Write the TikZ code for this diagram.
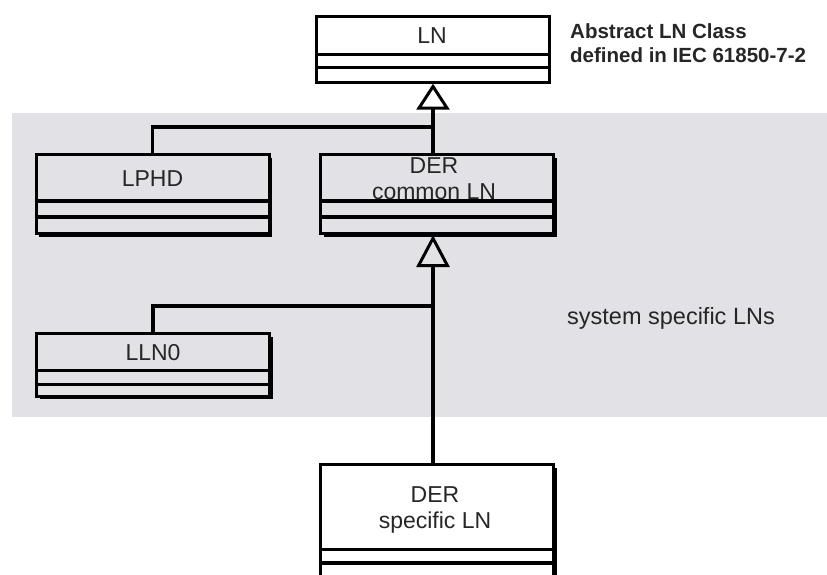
\documentclass[tikz,border=0pt]{standalone}
\usepackage{fontspec}
\setmainfont{Liberation Sans}
\usetikzlibrary{arrows.meta,shadows}

\definecolor{panelgray}{RGB}{226,225,229}
\definecolor{inkgray}{RGB}{38,38,38}

\tikzset{
  classframe/.style={draw=black, line width=3pt, inner sep=0pt, anchor=north west},
  boxshadow/.style={drop shadow={shadow xshift=3pt, shadow yshift=-3pt, opacity=1, fill=black}},
  compartment/.style={line width=3.3pt},
  classname/.style={font=\fontsize{23}{26}\selectfont, text=inkgray, inner sep=0pt, align=center},
  link/.style={line width=3.5pt},
  inheritshort/.style={line width=3.5pt, -{Triangle[open, length=26pt, width=33pt, line width=3pt]}},
  inheritlong/.style={line width=3.5pt, -{Triangle[open, length=32pt, width=33pt, line width=3pt]}},
}

\begin{document}
\begin{tikzpicture}[x=1pt, y=-1pt]
  \useasboundingbox (0,0) rectangle (827,574);
  \clip (0,0) rectangle (827,574);
  \fill[white] (0,0) rectangle (827,574);

  % shaded area holding the system specific logical nodes
  \fill[panelgray] (12,113) rectangle (827,417);

  % abstract base class
  \node[classframe, minimum width=233pt, minimum height=65.4pt] (ln) at (315,15.3) {};
  \draw[compartment] (ln.west |- 0,54.7) -- (ln.east |- 0,54.7);
  \draw[compartment] (ln.west |- 0,67.3) -- (ln.east |- 0,67.3);

  % LPHD
  \node[classframe, boxshadow, fill=panelgray, minimum width=233pt, minimum height=79pt] (lphd) at (34.5,153) {};
  \draw[compartment] (lphd.west |- 0,201) -- (lphd.east |- 0,201);
  \draw[compartment] (lphd.west |- 0,217) -- (lphd.east |- 0,217);

  % DER common LN
  \node[classframe, boxshadow, fill=panelgray, minimum width=233pt, minimum height=79pt] (dercom) at (319,153) {};
  \draw[compartment] (dercom.west |- 0,201) -- (dercom.east |- 0,201);
  \draw[compartment] (dercom.west |- 0,217) -- (dercom.east |- 0,217);

  % LLN0
  \node[classframe, boxshadow, fill=panelgray, minimum width=233pt, minimum height=62.7pt] (lln) at (35,332) {};
  \draw[compartment] (lln.west |- 0,370.5) -- (lln.east |- 0,370.5);
  \draw[compartment] (lln.west |- 0,384.3) -- (lln.east |- 0,384.3);

  % DER specific LN
  \node[classframe, boxshadow, fill=white, minimum width=233pt, minimum height=130pt] (dersp) at (319,463) {};
  \draw[compartment] (dersp.west |- 0,549.5) -- (dersp.east |- 0,549.5);
  \draw[compartment] (dersp.west |- 0,563) -- (dersp.east |- 0,563);

  % junctions on the inheritance stems
  \coordinate (upperjoin) at (432,127);
  \coordinate (lowerjoin) at (432,306);

  % connectors
  \draw[inheritshort] (ln.south |- dercom.north) -- (ln.south);
  \draw[link] (lphd.north) |- (upperjoin);
  \draw[inheritlong] (ln.south |- dersp.north) -- (ln.south |- dercom.south);
  \draw[link] (lln.north) |- (lowerjoin);

  % class names
  \node[classname, anchor=base] (lnname) at (432,43) {LN};
  \node[classname, anchor=base] (lphdname) at (lphd.north |- 0,186) {LPHD};
  \node[classname] (dercomname) at (434,178.2) {DER\\common LN};
  \node[classname, anchor=base] (llnname) at (lln.north |- 0,360) {LLN0};
  \node[classname] (derspname) at (435,509.5) {DER\\specific LN};

  % notes
  \node[anchor=west, inner sep=0pt, align=left, text=inkgray,
        font=\fontsize{20.5}{24}\selectfont\bfseries] (note) at (570,43.5)
        {Abstract LN Class\\defined in IEC 61850-7-2};
  \node[anchor=base west, inner sep=0pt, text=inkgray,
        font=\fontsize{23.5}{28}\selectfont] (areanote) at (567,324)
        {system specific LNs};
\end{tikzpicture}
\end{document}
